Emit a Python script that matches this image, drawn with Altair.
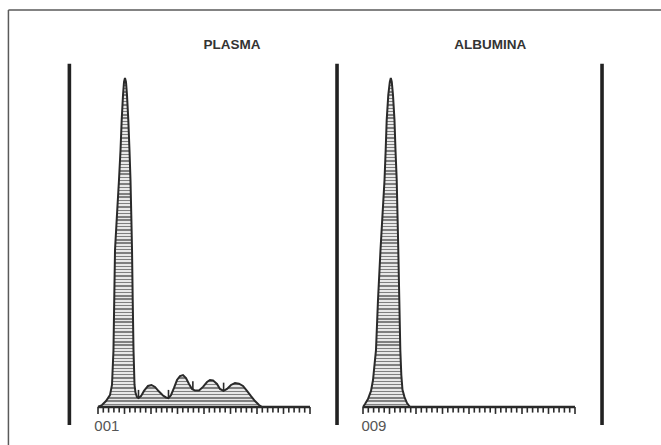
import altair as alt
import pandas as pd

# ---------------- data (mobility units 0-40, relative density 0-100) ----------------
panels = ["PLASMA", "ALBUMINA"]
sample_ids = ["001", "009"]

plasma_x = [0.00, 0.75, 1.51, 2.26, 2.64, 2.92, 3.21, 3.58, 3.96, 4.25, 4.47, 4.72, 4.91, 5.09,
            5.28, 5.47, 5.72, 5.94, 6.13, 6.28, 6.42, 6.55, 6.70, 6.89, 7.08, 7.36, 7.64,
            8.11, 8.68, 9.43, 10.09, 10.75, 11.51, 12.26, 12.83, 13.30,
            13.77, 14.34, 14.91, 15.47, 16.04, 16.60, 17.17, 17.74, 18.30, 19.06,
            19.81, 20.57, 21.13, 21.70, 22.45, 23.02, 23.68,
            24.34, 25.09, 25.85, 26.60, 27.36, 28.11, 28.87, 29.62, 30.38, 30.94]
plasma_y = [0.0, 0.6, 1.8, 3.6, 6.7, 17.3, 47.7, 58.4, 69.0, 78.1, 87.2, 94.8, 98.8, 100.0,
            98.8, 94.8, 87.2, 78.1, 69.0, 58.4, 47.7, 32.5, 17.3, 6.7, 4.3, 3.0, 2.7,
            3.3, 4.9, 6.4, 6.7, 6.1, 4.7, 3.5, 2.9, 2.7,
            3.6, 5.8, 8.2, 9.4, 9.7, 8.8, 7.0, 5.5, 5.0, 5.0,
            6.1, 7.6, 8.2, 8.1, 7.0, 5.5, 4.9,
            5.5, 6.7, 7.3, 7.1, 6.4, 4.9, 3.3, 1.8, 0.6, 0.0]

albumina_x = [0.00, 0.38, 0.94, 1.51, 1.89, 2.17, 2.45, 2.83, 3.30, 3.68, 4.06, 4.28, 4.47, 4.77,
              5.06, 5.25, 5.43, 5.66, 5.94, 6.13, 6.36, 6.51, 6.66, 6.85, 7.04, 7.23, 7.45,
              7.83, 8.30, 8.87]
albumina_y = [0.0, 0.9, 2.4, 4.9, 8.2, 12.8, 17.3, 32.5, 47.7, 58.4, 69.0, 78.1, 87.2, 94.8,
              98.8, 100.0, 98.8, 94.8, 87.2, 78.1, 69.0, 58.4, 47.7, 32.5, 17.3, 9.7, 5.2,
              3.0, 1.2, 0.0]

# fraction separators on the plasma trace
sep_x = [7.64, 13.30, 17.90, 23.70]
sep_y = [2.7, 2.7, 5.3, 4.9]

scale_ticks = list(range(0, 41))   # baseline scale, 0..40

# ---------------- layout constants ----------------
W, H = 661, 445
PX_U, PX_D = 5.3, 3.29          # px per mobility unit / per density unit
X0, Y0 = 98, 407                 # pixel origin of first panel baseline
OFFSET = 50                      # second panel offset in mobility units
XDOM = [-X0 / PX_U, (W - X0) / PX_U]
YDOM = [(Y0 - H) / PX_D, Y0 / PX_D]

xs = alt.Scale(domain=XDOM, nice=False, zero=False)
ys = alt.Scale(domain=YDOM, nice=False, zero=False)

# ---------------- tables ----------------
curve = pd.concat([
    pd.DataFrame({"panel": panels[0], "u": plasma_x, "d": plasma_y,
                  "i": range(len(plasma_x)), "off": 0}),
    pd.DataFrame({"panel": panels[1], "u": albumina_x, "d": albumina_y,
                  "i": range(len(albumina_x)), "off": OFFSET}),
])
curve["x"] = curve["u"] + curve["off"]

seps = pd.DataFrame({"x": sep_x, "y": sep_y})
seps["y2"] = seps["y"] + 2.5

ticks = pd.DataFrame([
    {"x": t + off, "y": 0, "y2": -2.1 if t % 5 == 0 else -1.7}
    for off in (0, OFFSET) for t in scale_ticks
])

baselines = pd.DataFrame({"x": [0, OFFSET], "x2": [40, 40 + OFFSET], "y": [0, 0]})

bars = pd.DataFrame({"x": [-5.4, 45.1, 95.1], "y": [104.3] * 3, "y2": [-5.5] * 3})

border_top = pd.DataFrame({"x": [-16.9], "x2": [XDOM[1]], "y": [120.7]})
border_left = pd.DataFrame({"x": [-16.9], "y": [120.7], "y2": [YDOM[0]]})

titles = pd.DataFrame({"t": panels, "x": [25.3, 74.0], "y": [108.9, 108.9]})
ids = pd.DataFrame({"t": sample_ids, "x": [-0.7, OFFSET - 0.3], "y": [-7.3, -7.3]})

# ---------------- hatched fill ----------------
N = 100
stops = []
for k in range(N):
    a, b, c = k / N, (k + 0.42) / N, (k + 1) / N
    stops += [alt.GradientStop(offset=a, color="#808080"),
              alt.GradientStop(offset=b, color="#808080"),
              alt.GradientStop(offset=b, color="#e8e8e8"),
              alt.GradientStop(offset=c, color="#e8e8e8")]
hatch = alt.Gradient(gradient="linear", stops=stops, x1=0, x2=0, y1=0, y2=1)

X = lambda f: alt.X(f, type="quantitative", scale=xs, axis=None)
Y = lambda f: alt.Y(f, type="quantitative", scale=ys, axis=None)

area = alt.Chart(curve).mark_area(color=hatch, opacity=1).encode(
    x=X("x"), y=Y("d"), y2=alt.datum(0), detail="panel:N")

line = alt.Chart(curve).mark_line(color="#2a2a2a", strokeWidth=2.0).encode(
    x=X("x"), y=Y("d"), detail="panel:N", order="i:Q")

sep = alt.Chart(seps).mark_rule(color="#2a2a2a", strokeWidth=1.6).encode(
    x=X("x"), y=Y("y"), y2="y2")

tick = alt.Chart(ticks).mark_rule(color="#2a2a2a", strokeWidth=1.6).encode(
    x=X("x"), y=Y("y"), y2="y2")

base = alt.Chart(baselines).mark_rule(color="#2a2a2a", strokeWidth=2.4).encode(
    x=X("x"), x2="x2", y=Y("y"))

bar = alt.Chart(bars).mark_rule(color="#222222", strokeWidth=3.6).encode(
    x=X("x"), y=Y("y"), y2="y2")

btop = alt.Chart(border_top).mark_rule(color="#5a5a5a", strokeWidth=1.5).encode(
    x=X("x"), x2="x2", y=Y("y"))
bleft = alt.Chart(border_left).mark_rule(color="#5a5a5a", strokeWidth=1.5).encode(
    x=X("x"), y=Y("y"), y2="y2")

title = alt.Chart(titles).mark_text(font="Liberation Sans", fontWeight="bold", fontSize=13.5,
                                    color="#333333", align="center", baseline="alphabetic").encode(
    x=X("x"), y=Y("y"), text="t:N")

idtxt = alt.Chart(ids).mark_text(font="Liberation Sans", fontSize=15, color="#555555",
                                 align="left", baseline="alphabetic").encode(
    x=X("x"), y=Y("y"), text="t:N")

chart = alt.layer(area, line, sep, tick, base, bar, btop, bleft, title, idtxt).properties(
    width=W, height=H, padding=0, autosize=alt.AutoSizeParams(type="none"),
    background="white"
).configure_view(stroke=None)

chart.save("out.html", embed_options={"renderer": "svg", "actions": False})
